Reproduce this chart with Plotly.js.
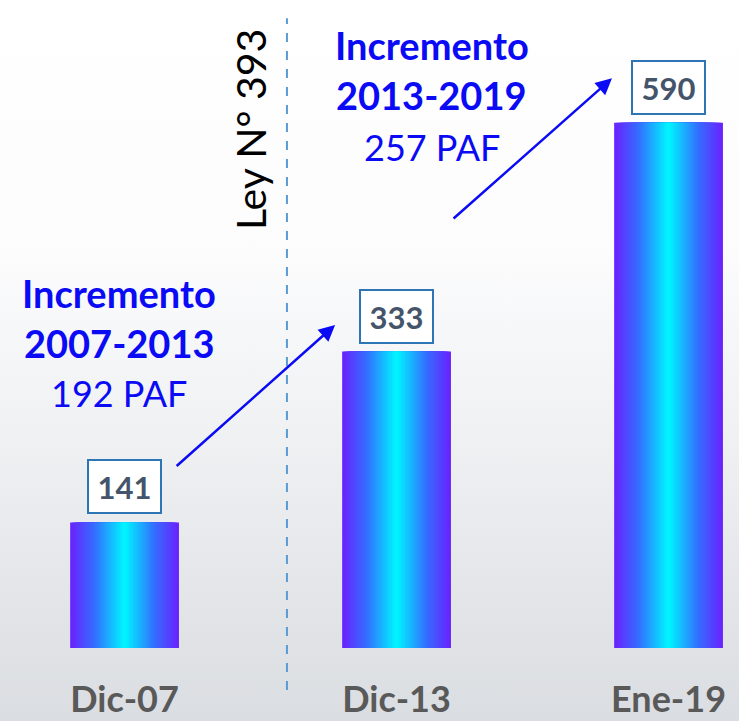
<!DOCTYPE html>
<html><head><meta charset="utf-8">
<script src="https://cdn.plot.ly/plotly-3.0.1.min.js"></script>
<style>
html,body{margin:0;padding:0;}
body{background:linear-gradient(to bottom,#ffffff 0%,#fcfcfd 35%,#eef0f2 62%,#dadde1 100%);}
#chart{width:739px;height:721px;}
</style>
</head><body><div id="chart"></div>
<script>
const categories = ['Dic-07', 'Dic-13', 'Ene-19'];
const values = [141, 333, 590];
const incrementPeriods = ['2007-2013', '2013-2019'];
const incrementValues = [192, 257];
const lawLabel = 'Ley N° 393';

// gradient simulated by overlaid bars of decreasing width (edge purple -> centre cyan)
const stops = [[0, [104, 36, 255]], [0.45, [52, 110, 255]], [1, [0, 242, 255]]];
function colAt(t) {
  for (let i = 0; i < stops.length - 1; i++) {
    const [t0, c0] = stops[i], [t1, c1] = stops[i + 1];
    if (t <= t1) {
      const f = (t - t0) / (t1 - t0);
      return 'rgb(' + c0.map((c, k) => Math.round(c + (c1[k] - c) * f)).join(',') + ')';
    }
  }
  return 'rgb(0,242,255)';
}
const N = 24, fullW = 0.4;
const traces = [];
for (let k = 0; k < N; k++) {
  const w = fullW * (1 - k / N);
  traces.push({
    type: 'bar', x: [0, 1, 2], y: values,
    width: [w, w, w],
    marker: {color: colAt(k / (N - 1)), line: {width: 0}},
    hoverinfo: 'skip', showlegend: false
  });
}

const font = 'Lato, "Open Sans", sans-serif';
const blue = '#0a0af5';
const annotations = [];
values.forEach((v, i) => annotations.push({
  x: i, y: v, xref: 'x', yref: 'y', yanchor: 'bottom', yshift: 8,
  text: '<b>' + v + '</b>', showarrow: false,
  font: {family: font, size: 31, color: '#44546a'},
  bordercolor: '#2e75b6', borderwidth: 2, bgcolor: '#ffffff',
  width: 69, height: 49
}));
// increment text blocks
const blockPos = [{x: -0.02, ys: [399, 343, 287]}, {x: 1.13, ys: [677, 621, 563]}];
incrementPeriods.forEach((p, i) => {
  const lines = ['<b>Incremento</b>', '<b>' + p + '</b>', incrementValues[i] + ' PAF'];
  lines.forEach((t, j) => annotations.push({
    x: blockPos[i].x, y: blockPos[i].ys[j], xref: 'x', yref: 'y',
    text: t, showarrow: false, font: {family: font, size: j === 2 ? 36 : 38, color: blue}
  }));
});
// arrows
const arrows = [
  {ax: 0.186, ay: 203, x: 0.774, y: 363},
  {ax: 1.204, ay: 481, x: 1.792, y: 640}
];
arrows.forEach(a => annotations.push({
  x: a.x, y: a.y, ax: a.ax, ay: a.ay, xref: 'x', yref: 'y', axref: 'x', ayref: 'y',
  text: '', showarrow: true, arrowhead: 2, arrowsize: 1.3, arrowwidth: 2.5, arrowcolor: blue
}));
annotations.push({
  x: 0.461, y: 583, xref: 'x', yref: 'y', text: lawLabel, textangle: -90,
  showarrow: false, font: {family: font, size: 41, color: '#000000'}
});

const layout = {
  width: 739, height: 721,
  margin: {l: 0, r: 0, t: 0, b: 73},
  paper_bgcolor: 'rgba(0,0,0,0)', plot_bgcolor: 'rgba(0,0,0,0)',
  barmode: 'overlay',
  xaxis: {
    range: [-0.458, 2.259], tickmode: 'array', tickvals: [0, 1, 2], ticktext: categories,
    showgrid: false, zeroline: false, showline: false, ticks: '',
    tickfont: {family: font, size: 36, color: '#595959', weight: 'bold'},
    ticklabelstandoff: 27
  },
  yaxis: {range: [0, 728], visible: false, showgrid: false, zeroline: false},
  shapes: [{
    type: 'line', xref: 'x', yref: 'paper', x0: 0.597, x1: 0.597, y0: -0.065, y1: 0.972,
    line: {color: '#5b9bd5', width: 2, dash: 'dash'}
  }],
  annotations: annotations,
  showlegend: false
};
Plotly.newPlot('chart', traces, layout, {displayModeBar: false, staticPlot: true});
</script>
</body></html>
